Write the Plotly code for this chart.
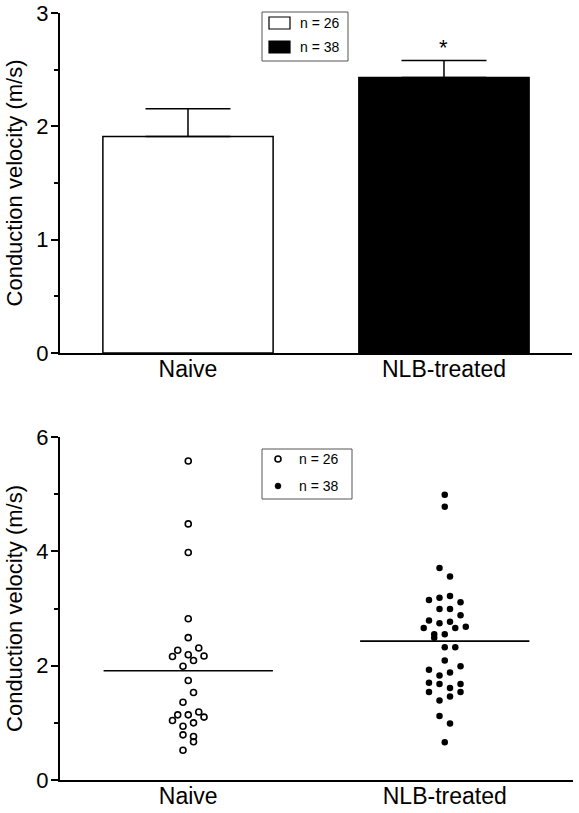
import plotly.graph_objects as go

# ---------------- data ----------------
categories = ["Naive", "NLB-treated"]
bar_means = [1.91, 2.43]
bar_sem = [0.245, 0.15]

naive_values = [5.58, 4.48, 3.98, 2.82, 2.49, 2.27, 2.31, 2.16, 2.19, 2.17,
                2.09, 1.99, 1.74, 1.53, 1.36, 1.14, 1.14, 1.19, 1.04, 1.10,
                1.00, 0.94, 0.79, 0.76, 0.67, 0.52]
naive_slots = [0, 0, 0, 0, 0, -2, 2, -3, 0, 3,
               1, -1, 0, 1, -1, -2, 0, 2, -3, 3,
               1, -1, -1, 1, 1, -1]

nlb_values = [4.99, 4.78, 3.71, 3.56, 3.15, 3.19, 3.22, 3.11, 2.99, 2.99,
              2.88, 2.79, 2.74, 2.77, 2.66, 2.66, 2.68, 2.55, 2.55, 2.49,
              2.32, 2.32, 2.09, 1.99, 1.93, 1.83, 1.88, 1.70, 1.68, 1.68,
              1.54, 1.61, 1.54, 1.39, 1.46, 1.12, 0.99, 0.66]
nlb_slots = [0, 0, -1, 1, -3, -1, 1, 3, -1, 1,
             3, -3, -1, 1, -4, 2, 4, -2, 0, -2,
             0, 2, 0, 3, -3, -1, 1, -3, -1, 3,
             -3, 1, 3, -1, 1, -1, 1, 0]

top_yticks = [0, 1, 2, 3]
bottom_yticks = [0, 2, 4, 6]
y_title = "Conduction velocity (m/s)"

# ---------------- style ----------------
FONT = "Liberation Sans, Arial, sans-serif"
W, H = 579, 813
ML, MR, MT, MB = 60, 6, 13, 33
PW, PH = W - ML - MR, H - MT - MB


def px(x):
    return (x - ML) / PW


def py(y):
    return (H - MB - y) / PH


slot_step = 0.0205
half_line = 0.33

fig = go.Figure()

# top: bars with error bars
fig.add_trace(go.Bar(
    x=[0, 1], y=bar_means, width=0.665,
    marker=dict(color=["white", "black"], line=dict(color="black", width=1.5)),
    error_y=dict(type="data", symmetric=False, array=bar_sem,
                 arrayminus=[0, 0], color="black", thickness=1.5, width=42.5),
    showlegend=False, xaxis="x", yaxis="y",
))

# bottom: scatter of individual values
fig.add_trace(go.Scatter(
    x=[0 + s * slot_step for s in naive_slots], y=naive_values, mode="markers",
    marker=dict(symbol="circle-open", size=6, color="black", line=dict(width=1.6)),
    showlegend=False, xaxis="x2", yaxis="y2",
))
fig.add_trace(go.Scatter(
    x=[1 + s * slot_step for s in nlb_slots], y=nlb_values, mode="markers",
    marker=dict(symbol="circle", size=6.5, color="black"),
    showlegend=False, xaxis="x2", yaxis="y2",
))
# mean lines
for i, m in enumerate(bar_means):
    fig.add_trace(go.Scatter(
        x=[i - half_line, i + half_line], y=[m, m], mode="lines",
        line=dict(color="black", width=1.6),
        showlegend=False, xaxis="x2", yaxis="y2",
    ))

axis_common = dict(showgrid=False, zeroline=False, showline=True,
                   linecolor="black", linewidth=2, automargin=False)

top_dom = [py(353), 1.0]
bot_dom = [0.0, py(437)]

fig.update_layout(
    width=W, height=H,
    margin=dict(l=ML, r=MR, t=MT, b=MB, autoexpand=False),
    paper_bgcolor="white", plot_bgcolor="white",
    font=dict(family=FONT, color="black"),
    xaxis=dict(domain=[0, 0.998], range=[-0.5, 1.5], tickvals=[0, 1],
               ticktext=categories, ticks="", anchor="y", ticklabelstandoff=-6,
               tickfont=dict(size=23), **axis_common),
    yaxis=dict(domain=top_dom, range=[0, 3], tickvals=top_yticks,
               ticks="outside", ticklen=7, tickwidth=2, tickcolor="black",
               minor=dict(dtick=0.5, ticks="outside", ticklen=4, tickwidth=2,
                          tickcolor="black"),
               tickfont=dict(size=22), anchor="x", ticklabelstandoff=-2,
               title=dict(text=y_title, font=dict(size=22), standoff=8),
               **axis_common),
    xaxis2=dict(domain=[0, 1], range=[-0.5, 1.5], tickvals=[0, 1],
                ticktext=categories, ticks="", anchor="y2", ticklabelstandoff=-6,
                tickfont=dict(size=23), **axis_common),
    yaxis2=dict(domain=bot_dom, range=[0, 6], tickvals=bottom_yticks,
                ticks="outside", ticklen=7, tickwidth=2, tickcolor="black",
                minor=dict(dtick=1, ticks="outside", ticklen=4, tickwidth=2,
                           tickcolor="black"),
                tickfont=dict(size=22), anchor="x2", ticklabelstandoff=-2,
                title=dict(text=y_title, font=dict(size=22), standoff=8),
                **axis_common),
)

# significance asterisk
fig.add_annotation(x=1, y=bar_means[1] + bar_sem[1], xref="x", yref="y",
                   text="*", showarrow=False, yanchor="middle", yshift=13,
                   font=dict(size=22, family=FONT, color="black"))

# ---------------- custom legends ----------------
shapes = []
annots = []
# top legend
shapes.append(dict(type="rect", xref="paper", yref="paper",
                   x0=px(262), x1=px(348), y0=py(61), y1=py(12),
                   line=dict(color="#555555", width=1), fillcolor="white"))
for (yc, fill, n) in [(23, "white", len(naive_values)), (47, "black", len(nlb_values))]:
    shapes.append(dict(type="rect", xref="paper", yref="paper",
                       x0=px(269), x1=px(290), y0=py(yc + 6), y1=py(yc - 6),
                       line=dict(color="black", width=1.2), fillcolor=fill))
    annots.append(dict(x=px(298), y=py(yc), xref="paper", yref="paper",
                       text=f"n = {n}", showarrow=False, xanchor="left",
                       yanchor="middle", font=dict(size=14, family=FONT, color="black")))
# bottom legend
shapes.append(dict(type="rect", xref="paper", yref="paper",
                   x0=px(262), x1=px(352), y0=py(499), y1=py(449),
                   line=dict(color="#555555", width=1), fillcolor="white"))
for (yc, fill, n) in [(459, "white", len(naive_values)), (486, "black", len(nlb_values))]:
    shapes.append(dict(type="circle", xref="paper", yref="paper",
                       xsizemode="pixel", ysizemode="pixel",
                       xanchor=px(278), yanchor=py(yc),
                       x0=-3, x1=3, y0=-3, y1=3,
                       line=dict(color="black", width=1.6 if fill == "white" else 0.5),
                       fillcolor=fill))
    annots.append(dict(x=px(297), y=py(yc), xref="paper", yref="paper",
                       text=f"n = {n}", showarrow=False, xanchor="left",
                       yanchor="middle", font=dict(size=14, family=FONT, color="black")))

fig.update_layout(shapes=shapes)
for a in annots:
    fig.add_annotation(**a)

fig.write_html(
    "out.html",
    config={"displayModeBar": False},
    post_script="document.body.style.margin='0';document.body.style.overflow='hidden';",
)
